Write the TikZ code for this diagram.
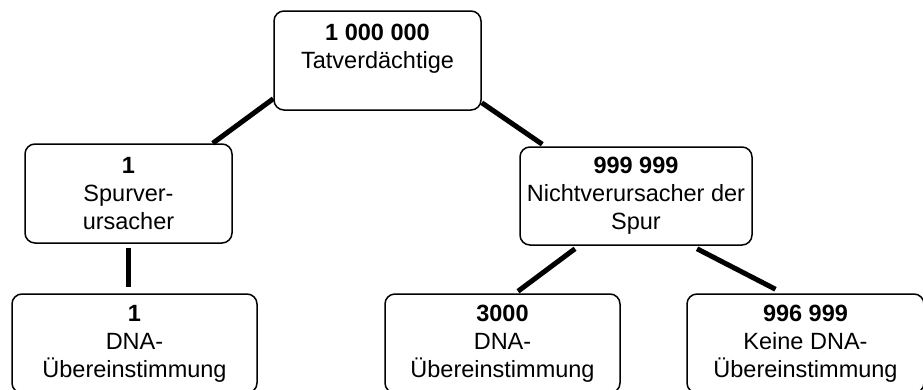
\documentclass[tikz,border=0pt]{standalone}
\usepackage{fontspec}
\setmainfont{Liberation Sans}
\begin{document}
\begin{tikzpicture}[x=1pt,y=-1pt,
  box/.style={draw, line width=1.5pt, rounded corners=10pt, align=center,
    minimum height=99pt, inner sep=0pt,
    font=\fontsize{23.5}{28}\selectfont},
  link/.style={line width=5pt}]
\useasboundingbox (0,0) rectangle (923,389);
\clip (0,0) rectangle (923,389);

% tree of suspects
\node[box, minimum width=207pt] (top) at (377.5,60.5)
  {\textbf{1 000 000}\\Tatverdächtige\\~};
\node[box, minimum width=207pt] (spur) at (128.5,193.5)
  {\textbf{1}\\Spurver-\\ursacher};
\node[box, minimum width=232pt, minimum height=98pt] (nicht) at (636,196)
  {\textbf{999 999}\\Nichtverursacher der\\Spur};
\node[box, minimum width=245pt] (b1) at (134.5,343.5)
  {\textbf{1}\\DNA-\\Übereinstimmung};
\node[box, minimum width=235pt] (b2) at (502.5,343.5)
  {\textbf{3000}\\DNA-\\Übereinstimmung};
\node[box, minimum width=237pt] (b3) at (805.5,343.5)
  {\textbf{996 999}\\Keine DNA-\\Übereinstimmung};

% connectors
\draw[link] ([yshift=12pt]top.south west) -- ([xshift=-20pt]spur.north east);
\draw[link] ([yshift=8pt]top.south east) -- ([xshift=23pt,yshift=2pt]nicht.north west);
\draw[link] ([yshift=-4pt]spur.south) -- ([yshift=6pt]b1.north -| spur.south);
\draw[link] ([xshift=-61pt,yshift=-3pt]nicht.south) -- ([xshift=15.5pt,yshift=2pt]b2.north);
\draw[link] ([xshift=61pt,yshift=-3pt]nicht.south) -- ([xshift=-30pt,yshift=4pt]b3.north);
\end{tikzpicture}
\end{document}
